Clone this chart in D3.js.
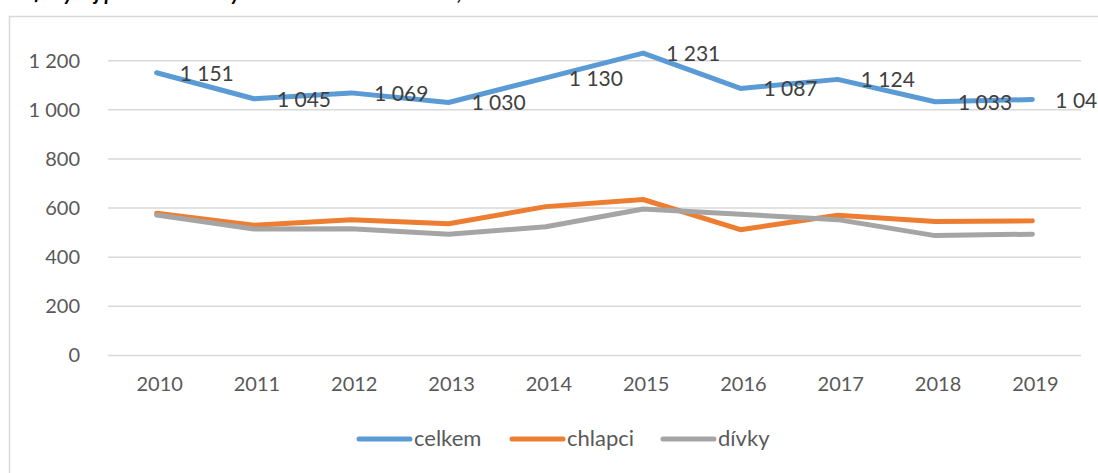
<!DOCTYPE html>
<html>
<head>
<meta charset="utf-8">
<script src="https://cdn.jsdelivr.net/npm/d3@7"></script>
<style>
  body { margin: 0; background: #fff; }
  svg { display: block; font-family: Lato, "Open Sans", sans-serif; }
</style>
</head>
<body>
<script>
//chart data
var years = ["2010","2011","2012","2013","2014","2015","2016","2017","2018","2019"];
var celkem = [1151, 1045, 1069, 1030, 1130, 1231, 1087, 1124, 1033, 1042];
var chlapci = [579, 530, 553, 536, 606, 635, 512, 571, 545, 548];
var divky = [572, 515, 516, 494, 524, 596, 575, 553, 488, 494];
var yTicks = [0, 200, 400, 600, 800, 1000, 1200];
var seriesNames = ["celkem", "chlapci", "dívky"];
var seriesColors = ["#5B9BD5", "#ED7D31", "#A5A5A5"];
var title = "Graf: Vývoj počtu narozených dětí s vrozenou vadou, ČR 2010–2019";

//begin script when window loads
window.onload = drawChart();

function drawChart(){
    var width = 1098,
        height = 473;

    var svg = d3.select("body")
        .append("svg")
        .attr("width", width)
        .attr("height", height);

    //cut-off title above the frame
    svg.append("text")
        .attr("x", 2)
        .attr("y", 0)
        .attr("font-size", 21)
        .attr("font-weight", "bold")
        .attr("font-style", "italic")
        .attr("fill", "#000")
        .text(title);

    //chart frame
    svg.append("rect")
        .attr("x", 9.5)
        .attr("y", 16.5)
        .attr("width", 1100)
        .attr("height", 470)
        .attr("fill", "none")
        .attr("stroke", "#D9D9D9")
        .attr("stroke-width", 1.5);

    var x = d3.scaleBand()
        .domain(years)
        .range([108, 1081]);

    var y = d3.scaleLinear()
        .domain([0, 1200])
        .range([355.5, 60.7]);

    //gridlines
    svg.append("g")
        .selectAll("line")
        .data(yTicks)
        .enter()
        .append("line")
        .attr("x1", 108)
        .attr("x2", 1081)
        .attr("y1", function(d){ return y(d); })
        .attr("y2", function(d){ return y(d); })
        .attr("stroke", "#D9D9D9")
        .attr("stroke-width", 1.5);

    //y axis labels
    var yAxis = d3.axisLeft(y)
        .tickValues(yTicks)
        .tickSize(0)
        .tickPadding(0)
        .tickFormat(function(d){ return d3.format(",")(d).replace(/,/g, " "); });

    var yg = svg.append("g")
        .attr("transform", "translate(80,0)")
        .call(yAxis);
    yg.select(".domain").remove();
    yg.selectAll("text")
        .attr("font-size", 20)
        .attr("font-family", "Lato, sans-serif")
        .attr("fill", "#595959");

    //x axis labels
    var xAxis = d3.axisBottom(x)
        .tickSize(0)
        .tickPadding(0);

    var xg = svg.append("g")
        .attr("transform", "translate(3,377)")
        .call(xAxis);
    xg.select(".domain").remove();
    xg.selectAll("text")
        .attr("font-size", 20)
        .attr("font-family", "Lato, sans-serif")
        .attr("fill", "#595959");

    //lines
    var allSeries = [celkem, chlapci, divky];
    var line = d3.line()
        .x(function(d, i){ return x(years[i]) + x.bandwidth() / 2; })
        .y(function(d){ return y(d); });

    svg.append("g")
        .selectAll("path")
        .data(allSeries)
        .enter()
        .append("path")
        .attr("d", line)
        .attr("fill", "none")
        .attr("stroke", function(d, i){ return seriesColors[i]; })
        .attr("stroke-width", 5)
        .attr("stroke-linejoin", "round")
        .attr("stroke-linecap", "round");

    //data labels for celkem
    svg.append("g")
        .selectAll("text")
        .data(celkem)
        .enter()
        .append("text")
        .attr("x", function(d, i){ return x(years[i]) + x.bandwidth() / 2 + 23; })
        .attr("y", function(d){ return y(d) + 8; })
        .attr("font-size", 21)
        .attr("fill", "#404040")
        .text(function(d){ return d3.format(",")(d).replace(/,/g, " "); });

    //legend
    var legendX = [357, 510, 661];
    var legend = svg.append("g")
        .selectAll("g")
        .data(seriesNames)
        .enter()
        .append("g")
        .attr("transform", function(d, i){ return "translate(" + legendX[i] + ",439)"; });

    legend.append("line")
        .attr("x1", 2)
        .attr("x2", 53)
        .attr("stroke", function(d, i){ return seriesColors[i]; })
        .attr("stroke-width", 5)
        .attr("stroke-linecap", "round");

    legend.append("text")
        .attr("x", 57)
        .attr("y", 7)
        .attr("font-size", 22)
        .attr("fill", "#595959")
        .text(function(d){ return d; });
}
</script>
</body>
</html>
